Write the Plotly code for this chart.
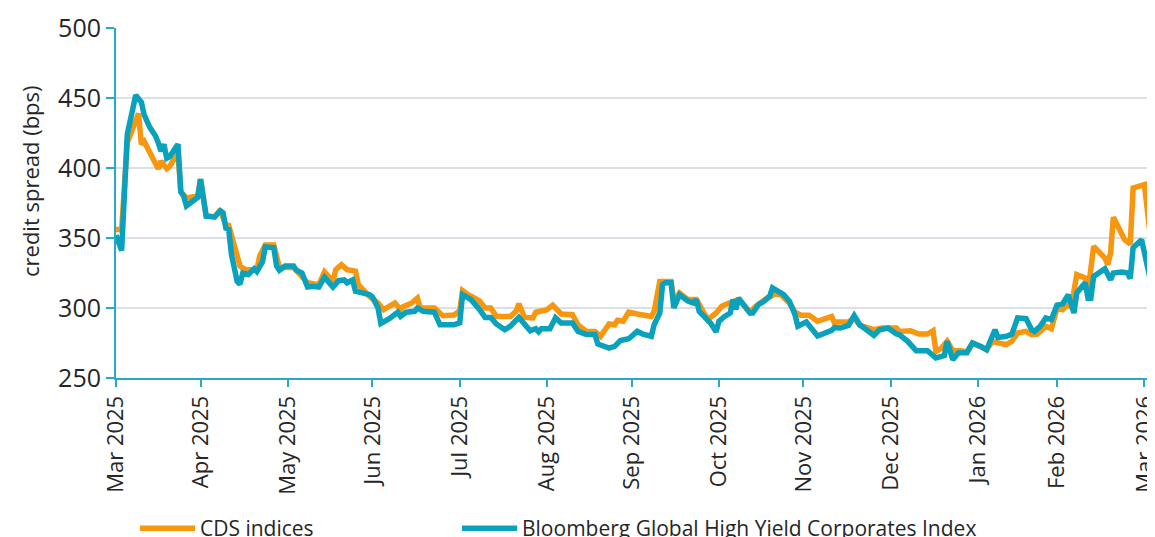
import plotly.graph_objects as go

# ---- data ----
hy_dates = [
    "2025-03-31", "2025-04-02", "2025-04-04", "2025-04-07", "2025-04-09", "2025-04-10", "2025-04-12",
    "2025-04-14", "2025-04-15", "2025-04-16", "2025-04-17", "2025-04-18", "2025-04-19", "2025-04-22",
    "2025-04-23", "2025-04-24", "2025-04-25", "2025-04-27", "2025-04-29", "2025-04-30", "2025-05-02",
    "2025-05-05", "2025-05-07", "2025-05-08", "2025-05-09", "2025-05-10", "2025-05-11", "2025-05-13",
    "2025-05-14", "2025-05-15", "2025-05-17", "2025-05-19", "2025-05-20", "2025-05-22", "2025-05-23",
    "2025-05-26", "2025-05-27", "2025-05-28", "2025-05-30", "2025-06-02", "2025-06-03", "2025-06-05",
    "2025-06-07", "2025-06-09", "2025-06-11", "2025-06-13", "2025-06-16", "2025-06-18", "2025-06-20",
    "2025-06-21", "2025-06-23", "2025-06-24", "2025-06-27", "2025-06-29", "2025-06-30", "2025-07-02",
    "2025-07-03", "2025-07-06", "2025-07-09", "2025-07-10", "2025-07-12", "2025-07-15", "2025-07-16",
    "2025-07-18", "2025-07-22", "2025-07-24", "2025-07-29", "2025-07-31", "2025-08-01", "2025-08-04",
    "2025-08-07", "2025-08-09", "2025-08-11", "2025-08-13", "2025-08-16", "2025-08-18", "2025-08-21",
    "2025-08-23", "2025-08-25", "2025-08-27", "2025-08-28", "2025-08-29", "2025-09-01", "2025-09-03",
    "2025-09-05", "2025-09-09", "2025-09-11", "2025-09-14", "2025-09-17", "2025-09-18", "2025-09-22",
    "2025-09-24", "2025-09-26", "2025-09-29", "2025-10-02", "2025-10-04", "2025-10-07", "2025-10-08",
    "2025-10-10", "2025-10-11", "2025-10-12", "2025-10-14", "2025-10-15", "2025-10-17", "2025-10-19",
    "2025-10-20", "2025-10-22", "2025-10-23", "2025-10-24", "2025-10-28", "2025-10-30", "2025-10-31",
    "2025-11-02", "2025-11-04", "2025-11-05", "2025-11-06", "2025-11-07", "2025-11-09", "2025-11-11",
    "2025-11-12", "2025-11-14", "2025-11-16", "2025-11-18", "2025-11-19", "2025-11-21", "2025-11-23",
    "2025-11-25", "2025-11-27", "2025-11-28", "2025-12-01", "2025-12-05", "2025-12-10", "2025-12-11",
    "2025-12-13", "2025-12-16", "2025-12-18", "2025-12-20", "2025-12-22", "2025-12-25", "2025-12-27",
    "2025-12-30", "2026-01-02", "2026-01-03", "2026-01-06", "2026-01-09", "2026-01-13", "2026-01-16",
    "2026-01-19", "2026-01-20", "2026-01-22", "2026-01-24", "2026-01-27", "2026-01-29", "2026-02-01",
    "2026-02-03", "2026-02-04", "2026-02-06", "2026-02-07", "2026-02-10", "2026-02-12", "2026-02-14",
    "2026-02-17", "2026-02-19", "2026-02-20", "2026-02-22", "2026-02-24", "2026-02-26", "2026-02-28",
    "2026-03-02", "2026-03-04", "2026-03-05", "2026-03-06", "2026-03-07", "2026-03-10", "2026-03-11",
    "2026-03-12", "2026-03-13", "2026-03-16", "2026-03-17", "2026-03-19", "2026-03-20", "2026-03-23",
    "2026-03-25", "2026-03-26", "2026-03-27", "2026-03-30", "2026-04-02",
]
hy_values = [
    352, 341, 424, 452, 447, 438, 429,
    423, 418, 412, 417, 407, 408, 417,
    383, 380, 373, 376, 379, 392, 365.5,
    365, 369.5, 368, 357, 356, 338, 319,
    317, 325, 324, 328, 326, 333, 343.6,
    343, 330, 327, 330, 330, 327, 325,
    315, 315.5, 315, 322, 315, 319.5, 320,
    318, 320, 312, 311, 309.5, 308, 300,
    289, 292.4, 297, 294, 297, 297.6, 300,
    297.6, 297, 288, 288, 289.5, 309.5, 306,
    299, 293.3, 293.3, 288.6, 284.5, 287, 293.3,
    288, 283.8, 285.2, 283, 285.2, 285.2, 293,
    289.3, 289.3, 283.3, 281, 281, 274.3, 271.4,
    272.6, 276.7, 278, 283.3, 281.4, 279.8, 288,
    296.4, 316.7, 318, 318, 300, 309.5, 306,
    305, 303.6, 306, 297.6, 289.3, 283, 290.5,
    294, 296.4, 306, 299, 307, 301, 296.4,
    296.4, 302.4, 304.8, 308.3, 314.3, 312.4, 309.5,
    304.8, 295.2, 287, 290, 280, 284, 286,
    285.7, 287.6, 294.5, 288, 284.5, 280.5, 284.5,
    285.7, 281.4, 281, 276.2, 269.5, 269.5, 264.3,
    266, 276.2, 263.1, 268, 268, 275, 272.6,
    270.2, 275, 284.5, 279, 279.8, 281.4, 292.9,
    292.4, 284.5, 283.3, 286.9, 292.9, 291.7, 302,
    303, 309.5, 301, 296.4, 310.7, 318, 307,
    307, 322.6, 327.4, 328, 320.2, 325, 325.7,
    325, 321, 343, 348.8, 321.4,
]

cds_dates = [
    "2025-03-31", "2025-04-02", "2025-04-04", "2025-04-05", "2025-04-08", "2025-04-09", "2025-04-10",
    "2025-04-12", "2025-04-14", "2025-04-15", "2025-04-16", "2025-04-18", "2025-04-19", "2025-04-22",
    "2025-04-23", "2025-04-25", "2025-04-29", "2025-04-30", "2025-05-02", "2025-05-05", "2025-05-07",
    "2025-05-09", "2025-05-10", "2025-05-12", "2025-05-14", "2025-05-16", "2025-05-20", "2025-05-21",
    "2025-05-23", "2025-05-26", "2025-05-28", "2025-06-02", "2025-06-05", "2025-06-07", "2025-06-11",
    "2025-06-13", "2025-06-16", "2025-06-17", "2025-06-19", "2025-06-21", "2025-06-24", "2025-06-25",
    "2025-06-29", "2025-07-02", "2025-07-04", "2025-07-08", "2025-07-10", "2025-07-11", "2025-07-14",
    "2025-07-16", "2025-07-17", "2025-07-22", "2025-07-25", "2025-07-29", "2025-07-31", "2025-08-01",
    "2025-08-03", "2025-08-05", "2025-08-07", "2025-08-09", "2025-08-11", "2025-08-13", "2025-08-18",
    "2025-08-20", "2025-08-21", "2025-08-23", "2025-08-26", "2025-08-27", "2025-08-29", "2025-08-31",
    "2025-09-02", "2025-09-05", "2025-09-09", "2025-09-11", "2025-09-14", "2025-09-17", "2025-09-19",
    "2025-09-22", "2025-09-24", "2025-09-25", "2025-09-27", "2025-09-29", "2025-10-02", "2025-10-07",
    "2025-10-08", "2025-10-10", "2025-10-14", "2025-10-15", "2025-10-17", "2025-10-20", "2025-10-23",
    "2025-10-27", "2025-10-30", "2025-11-01", "2025-11-03", "2025-11-05", "2025-11-07", "2025-11-11",
    "2025-11-13", "2025-11-17", "2025-11-20", "2025-11-22", "2025-11-25", "2025-11-27", "2025-11-29",
    "2025-12-02", "2025-12-05", "2025-12-10", "2025-12-11", "2025-12-12", "2025-12-16", "2025-12-18",
    "2025-12-20", "2025-12-25", "2025-12-28", "2026-01-02", "2026-01-03", "2026-01-07", "2026-01-10",
    "2026-01-13", "2026-01-15", "2026-01-16", "2026-01-18", "2026-01-20", "2026-01-22", "2026-01-25",
    "2026-01-27", "2026-01-29", "2026-02-01", "2026-02-03", "2026-02-05", "2026-02-07", "2026-02-10",
    "2026-02-12", "2026-02-14", "2026-02-17", "2026-02-19", "2026-02-21", "2026-02-24", "2026-02-26",
    "2026-02-28", "2026-03-02", "2026-03-04", "2026-03-05", "2026-03-07", "2026-03-10", "2026-03-11",
    "2026-03-13", "2026-03-17", "2026-03-18", "2026-03-19", "2026-03-20", "2026-03-24", "2026-03-26",
    "2026-03-27", "2026-03-31", "2026-04-02",
]
cds_values = [
    356, 356, 418, 424, 439, 417, 419,
    411, 404, 399.5, 405, 399.5, 401, 411,
    383, 378.6, 380, 392, 366, 365, 370,
    359, 359, 345, 330, 327.4, 327.4, 337,
    345, 345, 329, 329, 323, 318, 316.7,
    325.7, 319, 327.4, 331, 327.4, 326.4, 316.7,
    308.3, 303.6, 298.8, 303.6, 298.8, 301, 303.6,
    307, 300, 300, 294.5, 295, 298, 312.4,
    309.5, 307, 305, 300, 300, 294, 294,
    297.6, 303, 293.3, 293, 297, 297.6, 298.8,
    302, 295.7, 295.2, 288, 283.3, 283.3, 279.8,
    288.6, 288, 291.2, 290.5, 297.1, 295.7, 294,
    297.6, 319, 319, 305, 310.7, 306, 306,
    291.7, 296.4, 301.2, 303, 305, 306, 297,
    301, 307, 310, 309.5, 303.6, 297, 294.8,
    294.8, 290.5, 294, 289.3, 290, 290, 292.9,
    287.6, 284.5, 285.7, 285.7, 283.3, 283.8, 281.4,
    281.4, 283.8, 269, 271.4, 276.2, 269.5, 269.5,
    268.6, 275, 272.6, 270.2, 276, 275, 273.8,
    276.2, 282.1, 283.3, 281, 281.4, 286.9, 285.2,
    300, 298.8, 303.6, 300, 323.8, 321.4, 311.9,
    344, 335.7, 331, 339.3, 364.8, 348.8, 345.7,
    385.7, 388.1, 353.6,
]

# month-end ticks labelled with the month they close
tick_dates = [
    "2025-03-31", "2025-04-30", "2025-05-31", "2025-06-30", "2025-07-31", "2025-08-31",
    "2025-09-30", "2025-10-31", "2025-11-30", "2025-12-31", "2026-01-31", "2026-02-28", "2026-03-31",
]
tick_labels = [
    "Mar 2025", "Apr 2025", "May 2025", "Jun 2025", "Jul 2025", "Aug 2025",
    "Sep 2025", "Oct 2025", "Nov 2025", "Dec 2025", "Jan 2026", "Feb 2026", "Mar 2026",
]
y_ticks = [250, 300, 350, 400, 450, 500]

ORANGE = "#f7960f"
TEAL = "#0aa1bd"
AXIS = "#2aa9c4"
GRID = "#dbe0e7"
TXT = "#262626"
FONT = "Open Sans"

W, H = 1147, 529          # page adds an 8px body margin
L, R, T, B = 108, 5, 20, 159
PW, PH = W - L - R, H - T - B

fig = go.Figure()
fig.add_trace(go.Scatter(x=cds_dates, y=cds_values, mode="lines", name="CDS indices",
                         line=dict(color=ORANGE, width=5.5), legend="legend"))
fig.add_trace(go.Scatter(x=hy_dates, y=hy_values, mode="lines",
                         name="Bloomberg Global High Yield Corporates Index",
                         line=dict(color=TEAL, width=5.5), legend="legend2"))

leg_common = dict(orientation="h", yanchor="top", y=-(500 - (T + PH)) / PH,
                  xanchor="left", font=dict(size=21, color=TXT), itemwidth=55,
                  bgcolor="rgba(0,0,0,0)")

fig.update_layout(
    width=W, height=H,
    margin=dict(l=L, r=R, t=T, b=B, autoexpand=False),
    paper_bgcolor="white", plot_bgcolor="white",
    font=dict(family=FONT, color=TXT, size=20),
    showlegend=True,
    legend=dict(leg_common, x=(127 - L) / PW),
    legend2=dict(leg_common, x=(449 - L) / PW),
    xaxis=dict(type="date", range=["2025-03-31", "2026-04-02"],
               tickmode="array", tickvals=tick_dates, ticktext=tick_labels,
               tickangle=-90, tickfont=dict(size=22, color=TXT),
               ticklabeloverflow="allow",
               showline=True, linecolor=AXIS, linewidth=2,
               ticks="outside", ticklen=7, tickwidth=2, tickcolor=AXIS,
               showgrid=False, zeroline=False),
    yaxis=dict(range=[250, 500], tickmode="array", tickvals=y_ticks,
               tickfont=dict(size=25, color=TXT),
               showline=True, linecolor=AXIS, linewidth=2,
               ticks="outside", ticklen=8, tickwidth=2, tickcolor=AXIS,
               showgrid=True, gridcolor=GRID, gridwidth=2, zeroline=False),
    annotations=[dict(text="credit spread (bps)", textangle=-90,
                      xref="paper", yref="paper",
                      x=(22 - L) / PW, y=(T + PH - 173) / PH,
                      xanchor="center", yanchor="middle", showarrow=False,
                      font=dict(size=22, color=TXT, family=FONT))],
)

fig.write_html("out.html")
